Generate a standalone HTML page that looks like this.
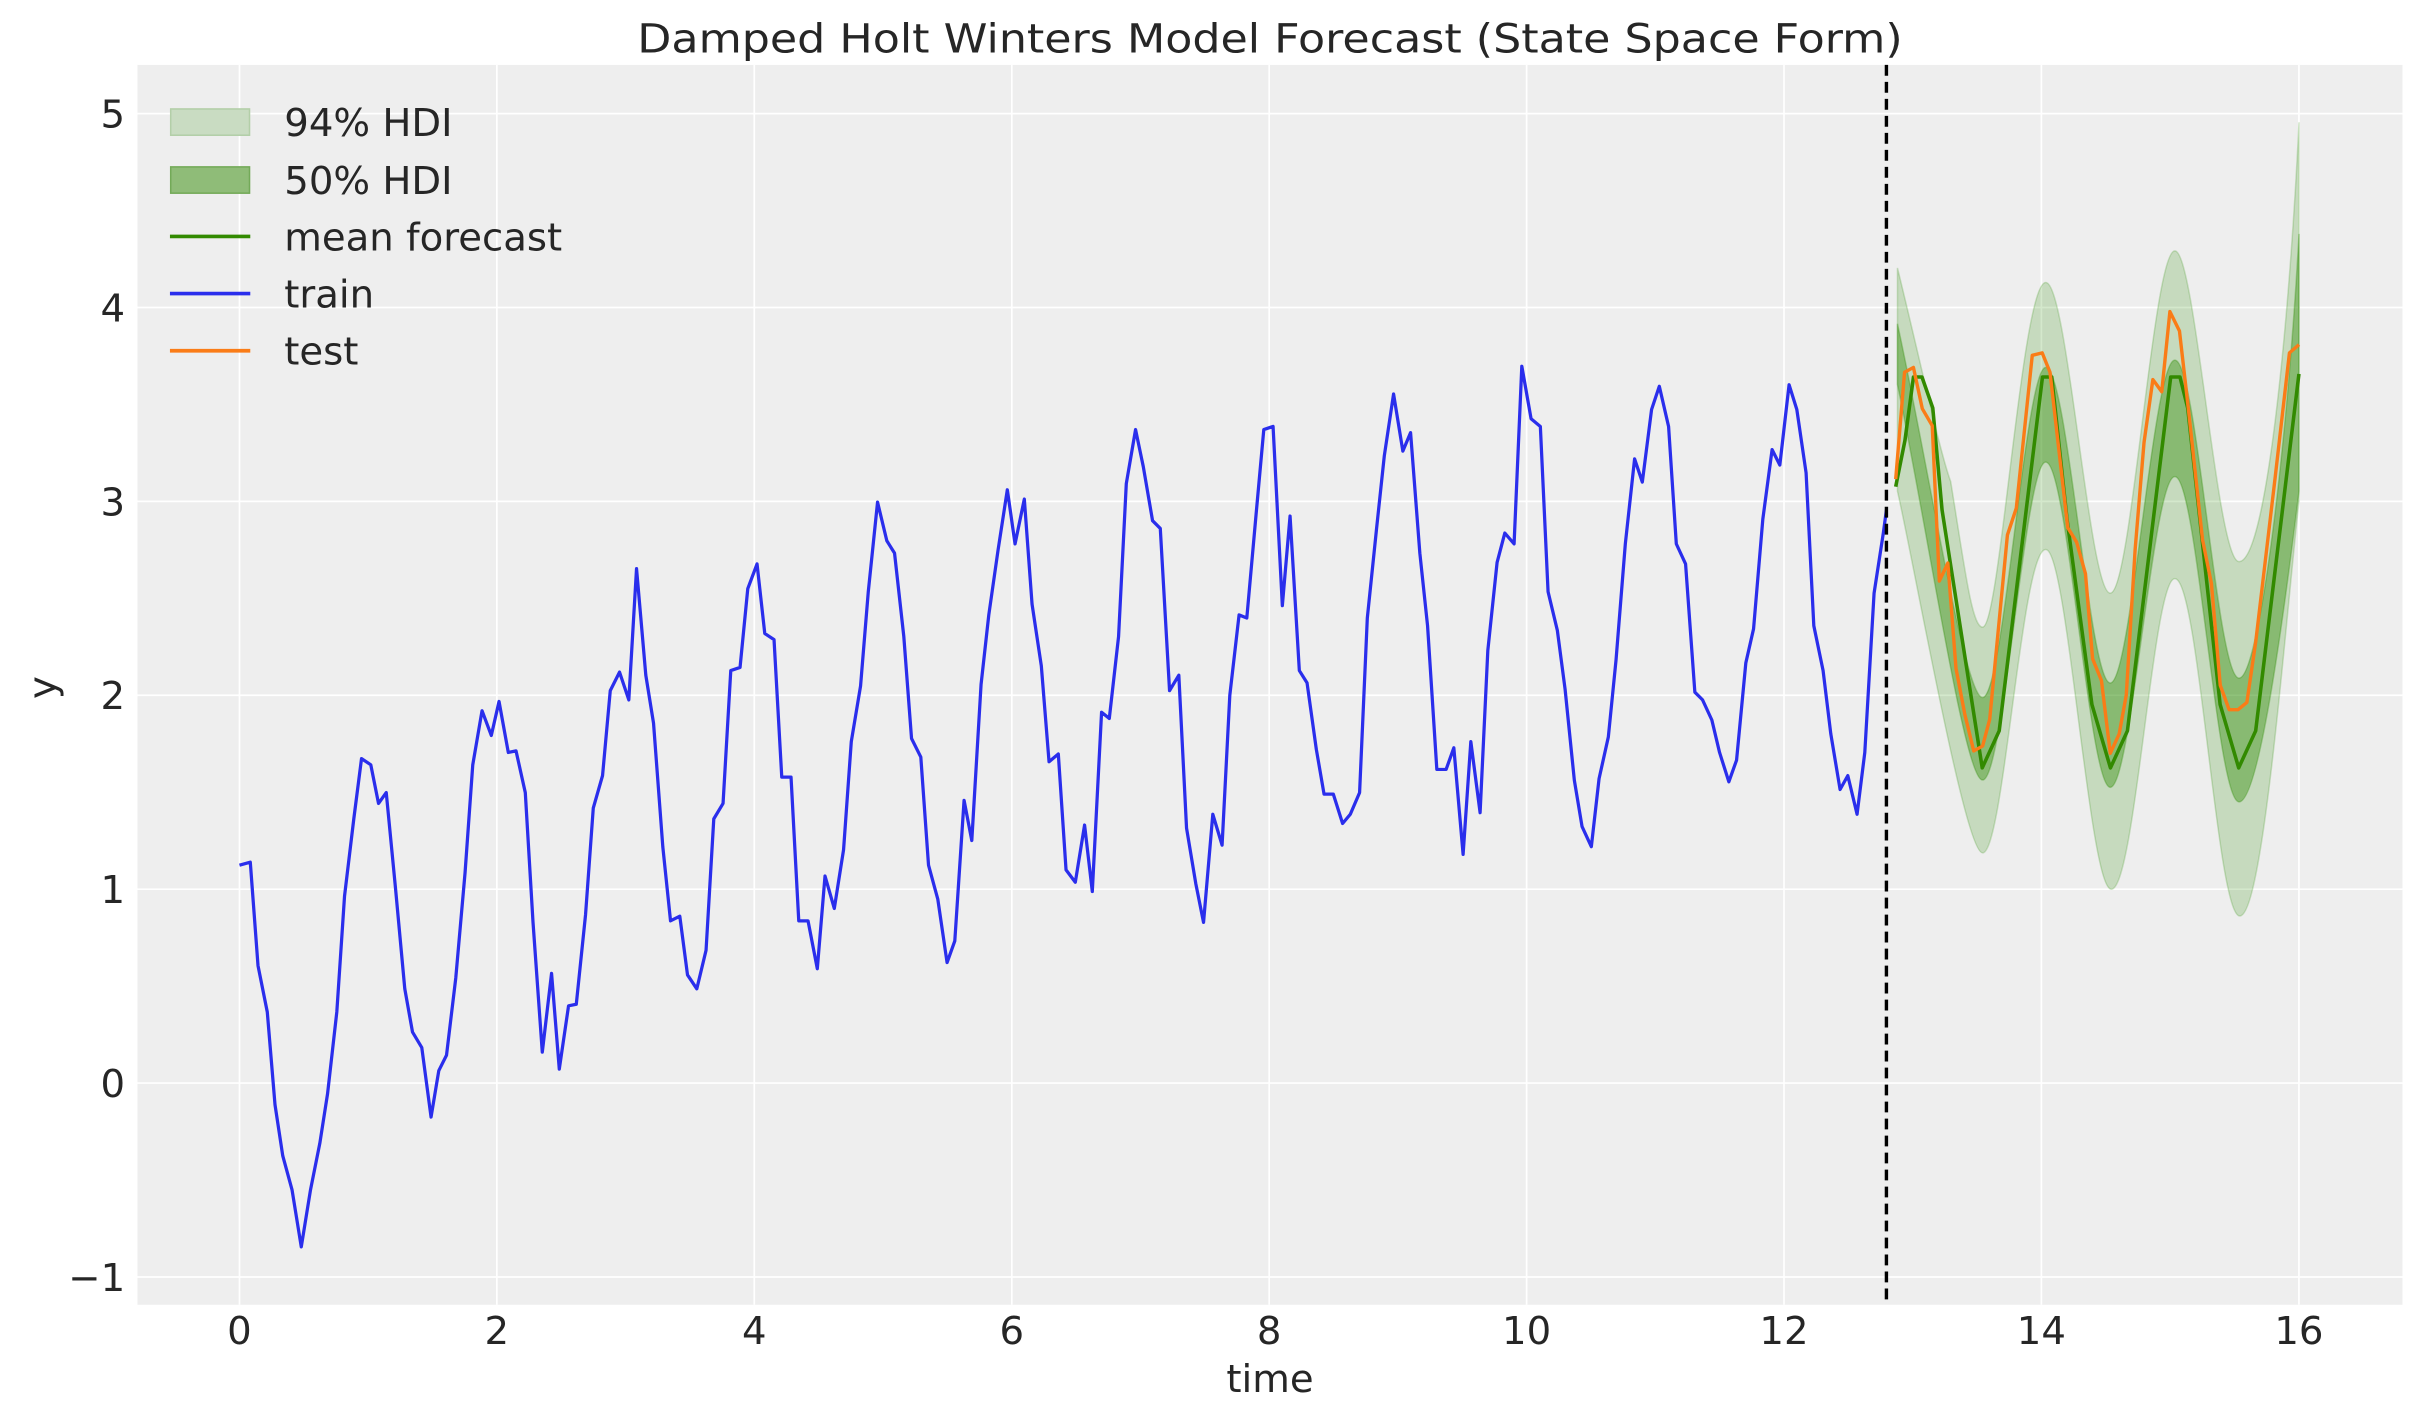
<!DOCTYPE html>
<html><head><meta charset="utf-8"><style>
html,body{margin:0;padding:0;background:#fff;}
svg{display:block;}
text{font-family:"DejaVu Sans","Liberation Sans",sans-serif;fill:#262626;}
</style></head><body>
<svg width="2423" height="1423" viewBox="0 0 1568.3 921" xmlns="http://www.w3.org/2000/svg">
<rect x="0" y="0" width="1568.3" height="921" fill="#fff"/>
<rect x="89" y="42" width="1466" height="802.5" fill="#eeeeee"/>
<g stroke="#fff" stroke-width="1.1">
<line x1="155" y1="42" x2="155" y2="844.5"/><line x1="321.6" y1="42" x2="321.6" y2="844.5"/>
<line x1="488.2" y1="42" x2="488.2" y2="844.5"/><line x1="654.9" y1="42" x2="654.9" y2="844.5"/>
<line x1="821.5" y1="42" x2="821.5" y2="844.5"/><line x1="988.1" y1="42" x2="988.1" y2="844.5"/>
<line x1="1154.7" y1="42" x2="1154.7" y2="844.5"/><line x1="1321.3" y1="42" x2="1321.3" y2="844.5"/>
<line x1="1488" y1="42" x2="1488" y2="844.5"/>
<line x1="89" y1="73.5" x2="1555" y2="73.5"/><line x1="89" y1="199" x2="1555" y2="199"/>
<line x1="89" y1="324.5" x2="1555" y2="324.5"/><line x1="89" y1="450" x2="1555" y2="450"/>
<line x1="89" y1="575.5" x2="1555" y2="575.5"/><line x1="89" y1="701" x2="1555" y2="701"/>
<line x1="89" y1="826.5" x2="1555" y2="826.5"/>
</g>
<g font-size="25" text-anchor="middle">
<text x="155" y="870">0</text><text x="321.6" y="870">2</text><text x="488.2" y="870">4</text>
<text x="654.9" y="870">6</text><text x="821.5" y="870">8</text><text x="988.1" y="870">10</text>
<text x="1154.7" y="870">12</text><text x="1321.3" y="870">14</text><text x="1488" y="870">16</text>
</g>
<g font-size="25" text-anchor="end">
<text x="81" y="82.5">5</text><text x="81" y="208">4</text><text x="81" y="333.5">3</text>
<text x="81" y="459">2</text><text x="81" y="584.5">1</text><text x="81" y="710">0</text>
<text x="81" y="835.5">−1</text>
</g>
<text x="822" y="901" font-size="25" text-anchor="middle">time</text>
<text x="0" y="0" font-size="25" text-anchor="middle" transform="translate(36,445) rotate(-90)">y</text>
<text x="822" y="34" font-size="26" text-anchor="middle" textLength="819" lengthAdjust="spacingAndGlyphs">Damped Holt Winters Model Forecast (State Space Form)</text>

<polyline fill="none" stroke="#2a2eec" stroke-width="2.1" stroke-linejoin="round" points="155,560 162,558 167,625 173,655 178,715 183,748 189,770 195,807 201,770 207,740 212,708 218,655 223,580 229,530 234,491 240,495 245,520 250,513 256,575 262,640 267,668 273,678 279,723 284,693 289,683 295,633 301,565 306,495 312,460 318,476 323,454 329,487 334,486 340,513 345,597 351,681 357,630 362,692 368,651 373,650 379,592 384,523 390,502 395,447 401,435 407,453 412,368 418,437 423,468 429,548 434,596 440,593 445,631 451,640 457,615 462,530 468,520 473,434 479,432 484,381 490,365 495,410 501,414 506,503 512,503 517,596 523,596 529,627 534,567 540,588 546,550 551,480 557,444 562,383 568,325 574,350 579,358 585,412 590,478 596,490 601,560 607,582 613,623 618,609 624,518 629,544 635,443 640,398 646,356 652,317 657,352 663,323 668,391 674,431 679,493 685,488 690,563 696,571 702,534 707,577 713,461 718,465 724,412 729,313 735,278 740,302 746,337 751,342 757,447 763,437 768,536 774,572 779,597 785,527 791,547 796,450 802,398 807,400 813,333 818,278 824,276 830,392 835,334 841,434 846,442 852,485 857,514 863,514 869,533 874,527 880,513 885,400 891,342 896,295 902,255 908,292 913,280 919,358 924,405 930,498 936,498 941,484 947,553 952,480 958,526 963,421 969,364 974,345 980,352 985,237 991,271 997,276 1002,383 1008,408 1013,446 1019,505 1024,535 1030,548 1035,504 1041,477 1046,427 1052,352 1058,297 1063,312 1069,265 1074,250 1080,276 1085,352 1091,365 1097,448 1102,453 1108,466 1113,487 1119,506 1124,492 1130,429 1135,407 1141,336 1147,291 1152,301 1158,249 1163,265 1169,306 1174,405 1180,434 1185,475 1191,511 1196,502 1202,527 1207,487 1213,384 1219,345 1221,330"/>

<g transform="matrix(0.2296,0,0,0.3142,1198.3,129.4)">
<path vector-effect="non-scaling-stroke" fill="#2a8a00" fill-opacity="0.2" stroke="#2a8a00" stroke-opacity="0.2" stroke-width="1.5"
 d="M130,140 C200,350 250,520 280,580 C320,760 340,880 370,880 C420,880 480,170 548,170 C610,170 670,810 730,810 C790,810 850,105 912,105 C970,105 1030,745 1093,745 C1170,745 1235,250 1262,-160
 L1262,620 C1220,900 1160,1475 1095,1475 C1030,1475 980,780 912,780 C850,780 800,1420 733,1420 C670,1420 610,720 548,720 C480,720 430,1345 370,1345 C320,1345 180,760 130,600 Z"/>
<path vector-effect="non-scaling-stroke" fill="#2a8a00" fill-opacity="0.4" stroke="#2a8a00" stroke-opacity="0.3" stroke-width="1.5"
 d="M130,255 C220,560 320,1025 370,1025 C430,1025 490,345 548,345 C610,345 670,995 730,995 C790,995 850,330 912,330 C975,330 1030,985 1093,985 C1150,985 1230,500 1262,70
 L1262,600 C1220,850 1150,1240 1093,1240 C1030,1240 975,570 912,570 C850,570 790,1210 730,1210 C670,1210 610,540 548,540 C490,540 430,1195 370,1195 C320,1195 220,700 130,380 Z"/>
</g>
<polyline fill="none" stroke="#328a00" stroke-width="2.3" stroke-linejoin="round" points="1227,315 1233,285 1238.5,244 1244,244 1251,264 1257,330 1283,497 1294,473 1322,244 1328,244 1338,337 1354,456 1366,497 1377,473 1405,244 1411,244 1416,264 1437,456 1449,497 1460,473 1488,242"/>
<g transform="matrix(0.2296,0,0,0.3142,1198.3,129.4)">
<polyline vector-effect="non-scaling-stroke" fill="none" stroke="#fa7c17" stroke-width="3.4" stroke-linejoin="round" points="125,575 150,355 175,345 200,430 228,465 248,785 272,748 295,965 320,1060 345,1135 370,1125 390,1070 440,690 465,635 510,320 538,315 560,355 610,675 635,705 660,770 680,945 705,990 730,1140 755,1100 775,1020 800,720 825,500 850,370 875,395 898,230 925,270 950,430 990,700 1015,790 1040,1000 1065,1050 1090,1050 1115,1035 1140,910 1195,570 1235,315 1262,298"/>
</g>
<line x1="1221" y1="42" x2="1221" y2="844.5" stroke="#000" stroke-width="2.2" stroke-dasharray="7,4"/>

<g font-size="25">
<rect x="110.5" y="70.5" width="51" height="17" fill="#c9dcc2" stroke="#b3cfa8" stroke-width="1"/>
<text x="184" y="88">94% HDI</text>
<rect x="110.5" y="108" width="51" height="17" fill="#8fbc78" stroke="#73aa58" stroke-width="1"/>
<text x="184" y="125.5">50% HDI</text>
<line x1="110" y1="153" x2="162" y2="153" stroke="#328a00" stroke-width="2.4"/>
<text x="184" y="162">mean forecast</text>
<line x1="110" y1="190" x2="162" y2="190" stroke="#2a2eec" stroke-width="2.4"/>
<text x="184" y="199">train</text>
<line x1="110" y1="227" x2="162" y2="227" stroke="#fa7c17" stroke-width="2.4"/>
<text x="184" y="236">test</text>
</g>
</svg>
</body></html>
